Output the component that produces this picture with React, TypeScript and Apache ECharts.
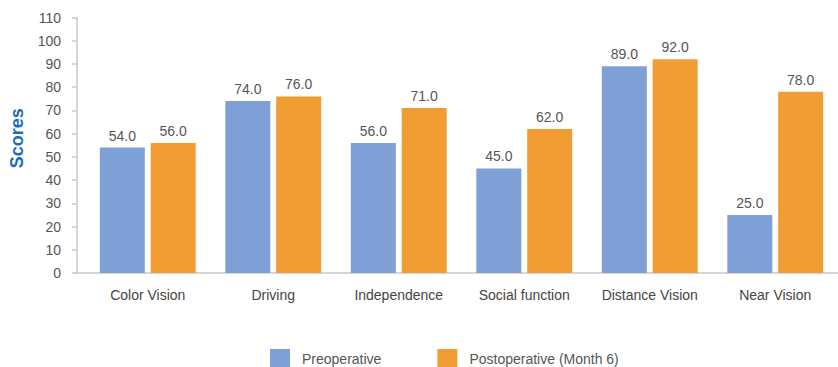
import React, { useEffect, useRef } from "react";
import * as echarts from "echarts";

const categories = [
  "Color Vision",
  "Driving",
  "Independence",
  "Social function",
  "Distance Vision",
  "Near Vision",
];
const preoperative = [54, 74, 56, 45, 89, 25];
const postoperative = [56, 76, 71, 62, 92, 78];
const seriesNames = ["Preoperative", "Postoperative (Month 6)"];
const yAxisName = "Scores";

const BLUE = "#7FA0D6";
const ORANGE = "#F29D34";
const AXIS_GREY = "#c8c8c8";
const FONT = "'Liberation Sans', Arial, sans-serif";

export default function App() {
  const ref = useRef<HTMLDivElement>(null);

  useEffect(() => {
    if (!ref.current) return;
    const chart = echarts.init(ref.current, undefined, { renderer: "svg" });

    const valueLabel = {
      show: true,
      position: "top",
      distance: 5,
      color: "#555",
      fontSize: 14,
      fontFamily: FONT,
      formatter: (p: any) => Number(p.value).toFixed(1),
    };

    chart.setOption({
      animation: false,
      textStyle: { fontFamily: FONT },
      grid: { left: 84, right: 0, top: 17.5, bottom: 94, containLabel: false },
      legend: {
        data: seriesNames,
        left: 270,
        top: 349,
        padding: 0,
        itemWidth: 20,
        itemHeight: 20,
        itemGap: 56,
        icon: "rect",
        textStyle: { color: "#555", fontSize: 14, fontFamily: FONT, padding: [0, 0, 0, 7] },
      },
      xAxis: {
        type: "category",
        data: categories,
        axisLine: { lineStyle: { color: AXIS_GREY, width: 1.5 } },
        axisTick: { alignWithLabel: true, length: 8, lineStyle: { color: AXIS_GREY, width: 1.5 } },
        axisLabel: { interval: 0, color: "#444", fontSize: 14, margin: 15, fontFamily: FONT },
      },
      yAxis: {
        type: "value",
        min: 0,
        max: 110,
        interval: 10,
        offset: 8,
        name: yAxisName,
        nameLocation: "middle",
        nameGap: 51,
        nameRotate: 90,
        nameTextStyle: {
          color: "#1A6BBD",
          fontSize: 18,
          fontWeight: "bold",
          fontFamily: FONT,
          padding: [0, 0, 0, 14],
        },
        axisLine: { show: true, lineStyle: { color: AXIS_GREY, width: 1.5 } },
        axisTick: { show: true, length: 5, lineStyle: { color: AXIS_GREY, width: 1.5 } },
        axisLabel: { color: "#555", fontSize: 14, margin: 16, fontFamily: FONT },
        splitLine: { show: false },
      },
      graphic: [
        {
          type: "line",
          shape: { x1: 76, y1: 273, x2: 85, y2: 273 },
          style: { stroke: AXIS_GREY, lineWidth: 1.5 },
        },
      ],
      series: [
        {
          name: seriesNames[0],
          type: "bar",
          data: preoperative,
          barWidth: 45,
          barGap: "13%",
          itemStyle: { color: BLUE },
          label: valueLabel,
        },
        {
          name: seriesNames[1],
          type: "bar",
          data: postoperative,
          barWidth: 45,
          itemStyle: { color: ORANGE },
          label: valueLabel,
        },
      ],
    });

    return () => chart.dispose();
  }, []);

  return (
    <div
      ref={ref}
      style={{ position: "absolute", left: 0, top: 0, width: 838, height: 367, background: "#fff" }}
    />
  );
}
